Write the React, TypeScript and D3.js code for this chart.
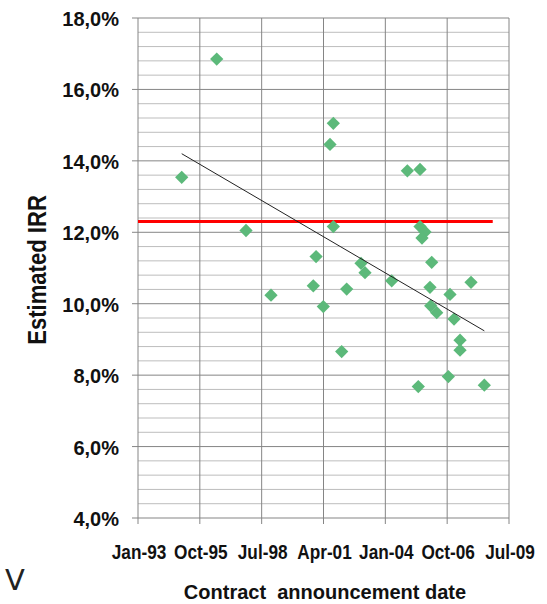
import React from "react";
import * as d3 from "d3";

// Excel date serials (days) of contract announcements and estimated IRR (%)
const announceDates = [
  34707, 35273, 35747, 36151, 36835, 36880, 36997, 37105, 37159, 37159, 37294,
  37375, 37607, 37671, 38103, 38356, 38561, 38561, 38642, 38593, 38750, 38722,
  38734, 38831, 39046, 39111, 39386, 39208, 39208, 39019, 38533, 39601,
];
const irrValues = [
  13.54, 16.85, 12.05, 10.24, 10.5, 11.32, 9.92, 14.46, 15.05, 12.16, 8.66,
  10.41, 11.13, 10.87, 10.64, 13.72, 13.76, 12.16, 12.01, 11.84, 11.16, 10.46,
  9.94, 9.75, 10.26, 9.57, 10.6, 8.98, 8.7, 7.96, 7.68, 7.72,
];
// Linear trend line, spanning the data's date range
const trendValues = [14.2, 9.24];
// Reference (red) line: level and date span
const refLevel = [12.3, 12.3];
const refDates = [34000, 39737];

const xTickValues = [34000, 35000, 36000, 37000, 38000, 39000, 40000];
const xTickLabels = ["Jan-93", "Oct-95", "Jul-98", "Apr-01", "Jan-04", "Oct-06", "Jul-09"];
const yTickValues = [4, 6, 8, 10, 12, 14, 16, 18];
const yTickLabels = ["4,0%", "6,0%", "8,0%", "10,0%", "12,0%", "14,0%", "16,0%", "18,0%"];

export default function App() {
  const W = 547,
    H = 604;
  const left = 138,
    right = 509,
    top = 18,
    bottom = 518;
  const x = d3.scaleLinear().domain([34000, 40000]).range([left, right]);
  const y = d3.scaleLinear().domain([4, 18]).range([bottom, top]);

  const minorY = d3.range(4, 18.001, 0.4).filter(
    (v) => !yTickValues.some((t) => Math.abs(t - v) < 1e-6)
  );

  const [x0, x1] = d3.extent(announceDates) as [number, number];

  const diamond = d3.symbol().type(d3.symbolSquare).size(88)()!;
  const font = "'Liberation Sans', Arial, sans-serif";

  return (
    <svg
      width={W}
      height={H}
      style={{ position: "absolute", left: 0, top: 0, background: "#fff" }}
    >
      {/* minor horizontal grid */}
      {minorY.map((v, i) => (
        <line key={"mn" + i} x1={left} x2={right} y1={y(v)} y2={y(v)} stroke="#bdbdbd" strokeWidth={1} />
      ))}
      {/* major horizontal grid */}
      {yTickValues.map((v, i) => (
        <line key={"mj" + i} x1={left - 6} x2={right} y1={y(v)} y2={y(v)} stroke="#858585" strokeWidth={1} />
      ))}
      {/* vertical grid */}
      {xTickValues.map((v, i) => (
        <line key={"vx" + i} x1={x(v)} x2={x(v)} y1={top} y2={bottom + 6} stroke="#858585" strokeWidth={1} />
      ))}
      {/* red reference line */}
      <line
        x1={x(refDates[0])}
        x2={x(refDates[1])}
        y1={y(refLevel[0])}
        y2={y(refLevel[1])}
        stroke="#ff0000"
        strokeWidth={3}
      />
      {/* points */}
      {announceDates.map((d, i) => (
        <path
          key={"p" + i}
          d={diamond}
          transform={`translate(${x(d)},${y(irrValues[i])}) rotate(45)`}
          fill="#5cb97a"
        />
      ))}
      {/* trend line */}
      <line
        x1={x(x0)}
        x2={x(x1)}
        y1={y(trendValues[0])}
        y2={y(trendValues[1])}
        stroke="#222"
        strokeWidth={1}
      />
      {/* y tick labels */}
      {yTickValues.map((v, i) => (
        <text
          key={"yl" + i}
          x={119}
          y={y(v) + 8}
          textAnchor="end"
          fontFamily={font}
          fontWeight="bold"
          fontSize={20}
          fill="#111"
        >
          {yTickLabels[i]}
        </text>
      ))}
      {/* x tick labels */}
      {xTickValues.map((v, i) => (
        <text
          key={"xl" + i}
          transform={`translate(${x(v) + 1},559) scale(0.82,1)`}
          textAnchor="middle"
          fontFamily={font}
          fontWeight="bold"
          fontSize={21}
          fill="#111"
        >
          {xTickLabels[i]}
        </text>
      ))}
      {/* axis titles */}
      <text
        transform="translate(46,270) rotate(-90) scale(0.85,1)"
        textAnchor="middle"
        fontFamily={font}
        fontWeight="bold"
        fontSize={26}
        fill="#111"
      >
        Estimated IRR
      </text>
      <text
        x={325}
        y={599}
        textAnchor="middle"
        fontFamily={font}
        fontWeight="bold"
        fontSize={20}
        fill="#111"
        style={{ whiteSpace: "pre" }}
      >
        {"Contract  announcement date"}
      </text>
      <text x={5} y={590} fontFamily="'DejaVu Sans', sans-serif" fontSize={29} fill="#222">
        V
      </text>
    </svg>
  );
}
